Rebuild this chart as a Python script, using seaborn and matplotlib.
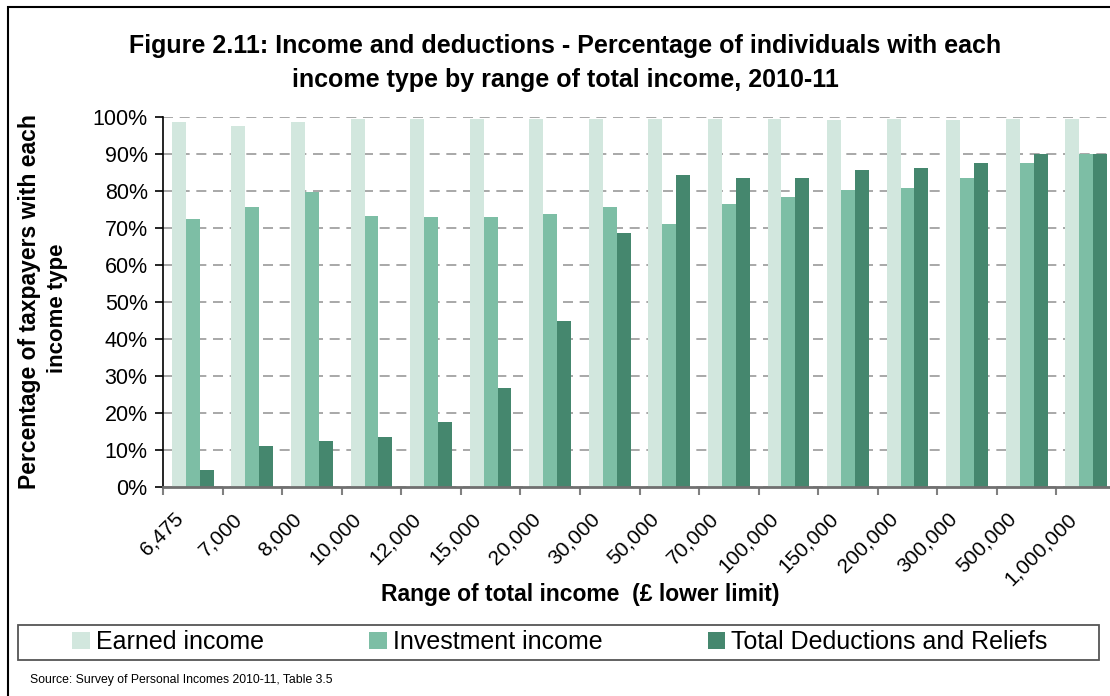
import matplotlib
matplotlib.use("Agg")
import matplotlib.pyplot as plt
import seaborn as sns
import pandas as pd
import numpy as np
from matplotlib.patches import Rectangle, Patch
from matplotlib.ticker import FuncFormatter

# Lower limit of each total-income range (GBP)
income_ranges = ["6,475", "7,000", "8,000", "10,000", "12,000", "15,000", "20,000",
                 "30,000", "50,000", "70,000", "100,000", "150,000", "200,000",
                 "300,000", "500,000", "1,000,000"]

# Percentage of taxpayers with each income type
earned = [98.6, 97.7, 98.6, 99.4, 99.4, 99.4, 99.4, 99.4,
          99.4, 99.4, 99.4, 99.1, 99.4, 99.1, 99.4, 99.4]
investment = [72.3, 75.8, 79.6, 73.2, 72.9, 72.9, 73.7, 75.8,
              71.2, 76.4, 78.3, 80.2, 80.7, 83.4, 87.5, 90.1]
deductions = [4.5, 11.0, 12.3, 13.4, 17.5, 26.7, 44.8, 68.6,
              84.2, 83.4, 83.4, 85.6, 86.1, 87.5, 90.1, 89.9]

series_names = ["Earned income", "Investment income", "Total Deductions and Reliefs"]
colors = ["#D2E7DE", "#7DBEA5", "#45876E"]

df = pd.DataFrame({
    "range": income_ranges * 3,
    "pct": earned + investment + deductions,
    "series": [s for s in series_names for _ in income_ranges],
})

sns.set_style("white")
plt.rcParams["font.family"] = ["Liberation Sans", "DejaVu Sans"]
plt.rcParams.update({"text.color": "black", "axes.labelcolor": "black",
                     "xtick.color": "black", "ytick.color": "black"})

W, H = 1110, 696
fig = plt.figure(figsize=(W / 100, H / 100), dpi=100)
ax = fig.add_axes([163 / W, 1 - 487 / H, 953 / W, 370 / H])

sns.barplot(data=df, x="range", y="pct", hue="series", hue_order=series_names,
            order=income_ranges, palette=colors, saturation=1, width=0.7,
            linewidth=0, ax=ax, legend=False)

ax.set_ylim(0, 100)
ax.set_xlim(-0.5, len(income_ranges) - 0.5)
ax.set_yticks(np.arange(0, 101, 10))
ax.yaxis.set_major_formatter(FuncFormatter(lambda v, _: f"{v:.0f}%"))
ax.tick_params(axis="y", direction="out", length=6, width=1.2, color="black",
               labelsize=15.5, pad=5, left=True)

# Category boundaries carry the ticks; the slanted names end just left of
# each group's centre
n = len(income_ranges)
ax.set_xticks(np.arange(-0.5, n, 1))
ax.set_xticklabels([])
ax.set_xticks(np.arange(n) - 0.33, minor=True)
ax.set_xticklabels(income_ranges, minor=True, rotation=45, ha="right",
                   rotation_mode="anchor", fontsize=15)
ax.tick_params(axis="x", which="major", direction="out", length=6, width=1.5,
               color="#808080", bottom=True)
ax.tick_params(axis="x", which="minor", length=0, pad=16)

ax.set_xlabel("")
ax.set_ylabel("")
ax.yaxis.grid(True, linestyle=(0, (6, 4)), color="#999999", lw=1.2)
ax.set_axisbelow(True)
for s in ("top", "right"):
    ax.spines[s].set_visible(False)
ax.spines["left"].set_color("black")
ax.spines["left"].set_linewidth(1.2)
ax.spines["bottom"].set_color("#707070")
ax.spines["bottom"].set_linewidth(2)

# Titles and axis captions
fig.text(565 / W, 1 - 46 / H,
         "Figure 2.11: Income and deductions - Percentage of individuals with each",
         ha="center", va="center", fontsize=18, weight="bold")
fig.text(565 / W, 1 - 80 / H, "income type by range of total income, 2010-11",
         ha="center", va="center", fontsize=18, weight="bold")
fig.text(30 / W, 1 - 302 / H, "Percentage of taxpayers with each",
         rotation=90, ha="center", va="center", fontsize=16.5, weight="bold")
fig.text(57 / W, 1 - 308 / H, "income type",
         rotation=90, ha="center", va="center", fontsize=16, weight="bold")
fig.text(580 / W, 1 - 594 / H, "Range of total income  (£ lower limit)",
         ha="center", va="center", fontsize=16.5, weight="bold")

# Legend strip
fig.add_artist(Rectangle((18 / W, 1 - 660 / H), 1081 / W, 35 / H,
                         transform=fig.transFigure, fill=False,
                         ec="#555555", lw=1.3))
handles = [Patch(facecolor=c, edgecolor="none") for c in colors]
fig.legend(handles, series_names, ncol=3, loc="center",
           bbox_to_anchor=(560 / W, 1 - 642 / H), frameon=False, fontsize=18,
           handlelength=0.7, handleheight=0.7, handletextpad=0.25,
           columnspacing=4.2)

fig.text(30 / W, 1 - 680 / H, "Source: Survey of Personal Incomes 2010-11, Table 3.5",
         ha="left", va="center", fontsize=8.8)

# Outer frame
fig.add_artist(Rectangle((8 / W, -0.1), 1.2, 1 - 7 / H + 0.1,
                         transform=fig.transFigure, fill=False,
                         ec="black", lw=1.5))

fig.savefig("out.png", dpi=100)
